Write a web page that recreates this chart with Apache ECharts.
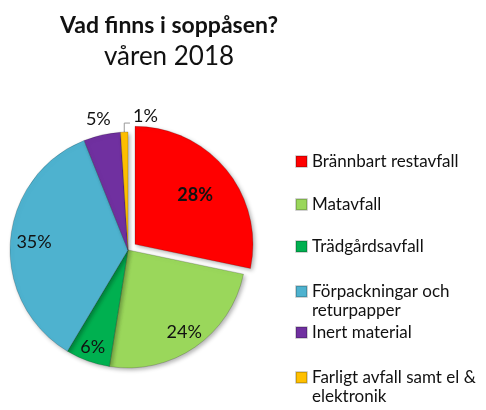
<!DOCTYPE html>
<html>
<head>
<meta charset="utf-8">
<script src="https://cdn.jsdelivr.net/npm/echarts@6/dist/echarts.min.js"></script>
<style>
  html, body { margin: 0; padding: 0; background: #fff; }
  #chart { width: 486px; height: 410px; }
</style>
</head>
<body>
<div id="chart"></div>
<script>
// data (percent of the bag)
const categories = [
  'Brännbart restavfall',
  'Matavfall',
  'Trädgårdsavfall',
  'Förpackningar och\nreturpapper',
  'Inert material',
  'Farligt avfall samt el &\nelektronik'
]
const values = [28, 24, 6, 35, 5, 1]
const colors = ['#FF0000', '#9AD75B', '#00B050', '#4EB2CF', '#7030A0', '#FFC000']

const CX = 128
const CY = 250
// how far each label is pushed out from the default inside spot
const labelStretch = [1.25, 1.6, 1.66, 1.52, 2.17, 1]
const legendTops = [152, 195, 237, 263, 323, 349]

const chart = echarts.init(document.getElementById('chart'))

const fontFamily = 'Lato, "Liberation Sans", sans-serif'

chart.setOption({
  animation: false,
  title: [
    {
      text: 'Vad finns i soppåsen?',
      left: 164,
      top: 9,
      textAlign: 'center',
      textStyle: { fontFamily: fontFamily, fontSize: 23, fontWeight: 'bold', color: '#111' }
    },
    {
      text: 'våren 2018',
      left: 164,
      top: 39,
      textAlign: 'center',
      textStyle: { fontFamily: fontFamily, fontSize: 26, fontWeight: 'normal', color: '#111' }
    }
  ],
  legend: categories.map((name, i) => ({
    data: [name],
    orient: 'vertical',
    left: 295,
    top: legendTops[i],
    padding: 0,
    itemWidth: 11,
    itemHeight: 11,
    itemGap: 6,
    icon: 'rect',
    selectedMode: false,
    formatter: n => (n.indexOf('\n') >= 0 ? '\n' + n : n),
    textStyle: { fontFamily: fontFamily, fontSize: 17, lineHeight: 19, color: '#111' }
  })),
  series: [{
    type: 'pie',
    center: [CX, CY],
    radius: 118,
    startAngle: 90,
    clockwise: true,
    selectedMode: 'single',
    selectedOffset: 9,
    avoidLabelOverlap: false,
    itemStyle: {
      borderColor: 'rgba(0,0,0,0.18)',
      borderWidth: 1,
      shadowBlur: 4,
      shadowOffsetX: 2,
      shadowOffsetY: 2,
      shadowColor: 'rgba(0,0,0,0.3)'
    },
    label: {
      position: 'inside',
      formatter: '{c}%',
      fontFamily: fontFamily,
      fontSize: 18,
      color: '#111'
    },
    labelLine: { show: false },
    labelLayout: function (p) {
      const r = p.labelRect
      if (p.labelLinePoints && p.dataIndex === 5) {
        // leader goes up from the slice and then to the right
        const a = p.labelLinePoints[0]
        const b = p.labelLinePoints[1]
        const c = [b[0] + 6, b[1]]
        return {
          labelLinePoints: [a, [a[0], b[1]], c],
          dx: c[0] + 3 - r.x,
          dy: c[1] - 7 - (r.y + r.height / 2)
        }
      }
      const k = labelStretch[p.dataIndex]
      if (k === 1) return {}
      const lx = r.x + r.width / 2
      const ly = r.y + r.height / 2
      return { dx: (lx - CX) * (k - 1), dy: (ly - CY) * (k - 1) }
    },
    data: categories.map((name, i) => {
      const d = { name: name, value: values[i], itemStyle: { color: colors[i] } }
      if (i === 0) {
        d.selected = true
        d.label = { fontWeight: 'bold' }
      }
      if (i === 5) {
        d.label = { position: 'outside' }
        d.labelLine = { show: true, length: 9, length2: 5, lineStyle: { color: '#999', width: 1 } }
      }
      return d
    })
  }]
})
</script>
</body>
</html>
